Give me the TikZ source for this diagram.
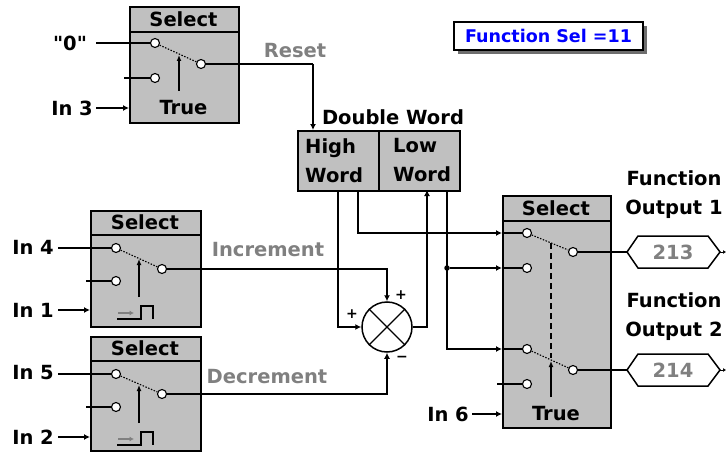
\documentclass[tikz,border=0pt]{standalone}
\usepackage{fontspec}
\setmainfont{DejaVu Sans}
\newfontfamily\plaindv{DejaVu Sans}[Ligatures=ResetAll]
\usetikzlibrary{arrows.meta}
\definecolor{boxgray}{RGB}{192,192,192}
\definecolor{lblgray}{RGB}{128,128,128}
\definecolor{shadowgray}{RGB}{110,110,110}
\definecolor{selblue}{RGB}{0,0,255}
\begin{document}
\begin{tikzpicture}[x=1pt,y=-1pt,
  lbl/.style={font=\fontsize{19.5}{29}\selectfont\bfseries, inner sep=0pt},
  glbl/.style={lbl, text=lblgray},
  small/.style={font=\fontsize{14}{14}\selectfont\bfseries, inner sep=0pt},
  box/.style={draw, fill=boxgray, line width=1.6pt, inner sep=0pt, anchor=north west},
  term/.style={circle, draw, fill=white, line width=1.1pt, minimum size=9pt, inner sep=0pt},
  wire/.style={line width=1.5pt},
  arr/.style={wire, -{Latex[length=6pt,width=6pt]}},
  sw/.style={line width=1.1pt, dash pattern=on 1.5pt off 1.5pt},
  ctl/.style={line width=1.5pt, -{Latex[length=6pt,width=5pt]}},
  jdot/.style={circle, fill=black, minimum size=5.5pt, inner sep=0pt},
  hdr/.style={line width=1.6pt},
]
\useasboundingbox (0,0) rectangle (726,452);

% ---------------- Select 1 (top) ----------------
\node[box, minimum width=109pt, minimum height=116pt] (s1) at (129,6) {};
\draw[hdr] ([yshift=-26pt]s1.north west) -- ([yshift=-26pt]s1.north east);
\node[lbl] (s1h) at (183.5,19) {Select};
\node[lbl] (s1t) at (183.5,108) {True};
\node[term] (s1a) at (155,43) {};
\node[term] (s1b) at (155,78) {};
\node[term] (s1o) at (201,64) {};
\draw[sw] (s1a) -- (s1o);
\coordinate (s1c0) at (179,91);
\coordinate (s1c1) at (179,55);
\draw[ctl] (s1c0) -- (s1c1);
\node[lbl] (zero) at (70,43) {\plaindv\bfseries "0"};
\coordinate (zeroe) at (96,43);
\draw[wire] (zeroe) -- (s1a);
\coordinate (s1bin) at (124,78);
\draw[wire] (s1bin) -- (s1b);
\node[lbl] (in3) at (72,108) {In 3};
\coordinate (in3e) at (96,108);
\coordinate (s1w) at (129,108);
\draw[arr] (in3e) -- (s1w);

% ---------------- Double word ----------------
\node[box, minimum width=162pt, minimum height=60pt] (dw) at (297,130) {};
\coordinate (dwdt) at (379,130);
\coordinate (dwdb) at (379,190);
\draw[hdr] (dwdt) -- (dwdb);
\node[lbl] (dwl) at (393,117) {Double Word};
\node[lbl, align=left, anchor=north west] (hw) at (305,138) {High\\Word};
\node[lbl, align=left, anchor=north west] (lw) at (393,138) {Low\\Word};
\coordinate (dwin) at (313,130);
\coordinate (rstc) at (313,64);
\draw[wire] (s1o) -- (rstc);
\draw[arr] (rstc) -- (dwin);
\node[glbl] (reset) at (295,51) {Reset};

% ---------------- Select 2 (increment) ----------------
\node[box, minimum width=110pt, minimum height=116pt] (s2) at (90,210) {};
\draw[hdr] ([yshift=-25pt]s2.north west) -- ([yshift=-25pt]s2.north east);
\node[lbl] (s2h) at (145,222.5) {Select};
\node[term] (s2a) at (116,248) {};
\node[term] (s2b) at (116,281) {};
\node[term] (s2o) at (162,269) {};
\draw[sw] (s2a) -- (s2o);
\coordinate (s2c0) at (139,297);
\coordinate (s2c1) at (139,259);
\draw[ctl] (s2c0) -- (s2c1);
\node[lbl] (in4) at (33,247) {In 4};
\coordinate (in4e) at (58,248);
\draw[wire] (in4e) -- (s2a);
\coordinate (s2bin) at (86,281);
\draw[wire] (s2bin) -- (s2b);
\node[lbl] (in1) at (33,310) {In 1};
\coordinate (in1e) at (58,310);
\coordinate (s2w) at (90,310);
\draw[arr] (in1e) -- (s2w);
\draw[wire] (117,319) -- (141,319) -- (141,306) -- (153,306) -- (153,319);
\draw[lblgray, line width=1.5pt, -{Latex[length=4.5pt,width=5pt]}] (118,313) -- (134,313);

% ---------------- Select 3 (decrement) ----------------
\node[box, minimum width=110pt, minimum height=114pt] (s3) at (90,336) {};
\draw[hdr] ([yshift=-25pt]s3.north west) -- ([yshift=-25pt]s3.north east);
\node[lbl] (s3h) at (145,348.5) {Select};
\node[term] (s3a) at (116,374) {};
\node[term] (s3b) at (116,407) {};
\node[term] (s3o) at (162,394) {};
\draw[sw] (s3a) -- (s3o);
\coordinate (s3c0) at (139,423);
\coordinate (s3c1) at (139,385);
\draw[ctl] (s3c0) -- (s3c1);
\node[lbl] (in5) at (33,373) {In 5};
\coordinate (in5e) at (58,374);
\draw[wire] (in5e) -- (s3a);
\coordinate (s3bin) at (86,407);
\draw[wire] (s3bin) -- (s3b);
\node[lbl] (in2) at (33,437) {In 2};
\coordinate (in2e) at (58,437);
\coordinate (s3w) at (90,437);
\draw[arr] (in2e) -- (s3w);
\draw[wire] (117,445) -- (141,445) -- (141,432) -- (153,432) -- (153,445);
\draw[lblgray, line width=1.5pt, -{Latex[length=4.5pt,width=5pt]}] (118,439) -- (134,439);

% ---------------- Summing junction ----------------
\node[circle, draw, line width=1.5pt, minimum size=50pt, inner sep=0pt] (sum) at (387,327) {};
\draw[line width=1.1pt] (sum.45) -- (sum.225) (sum.135) -- (sum.315);
\draw[arr] (s2o) -| (sum.north);
\draw[arr] (s3o) -| (sum.south);
\node[glbl] (inc) at (268,250) {Increment};
\node[glbl] (dec) at (267,377) {Decrement};
\node[small] (p1) at (401,295) {+};
\node[small] (p2) at (352,314) {+};
\node[small] (m1) at (402,359) {−};
\coordinate (hw1) at (338,190);
\draw[arr] (hw1) |- (sum.west);
\coordinate (lw1) at (427,190);
\draw[arr] (sum.east) -| (lw1);

% ---------------- Select 4 (big) ----------------
\node[box, minimum width=108pt, minimum height=232pt] (s4) at (502,195) {};
\draw[hdr] ([yshift=-26pt]s4.north west) -- ([yshift=-26pt]s4.north east);
\node[lbl] (s4h) at (556,208) {Select};
\node[lbl] (s4t) at (556,414) {True};
\node[term] (s4a) at (527,233) {};
\node[term] (s4b) at (527,268) {};
\node[term] (s4o) at (573,252) {};
\node[term] (s4c) at (527,349) {};
\node[term] (s4d) at (527,384) {};
\node[term] (s4p) at (573,370) {};
\draw[sw] (s4a) -- (s4o);
\draw[sw] (s4c) -- (s4p);
\coordinate (dsh0) at (551,243);
\coordinate (dsh1) at (551,358);
\draw[line width=1.1pt, dash pattern=on 6pt off 4pt] (dsh0) -- (dsh1);
\coordinate (s4c0) at (551,397);
\coordinate (s4c1) at (551,361);
\draw[ctl] (s4c0) -- (s4c1);
\node[lbl] (in6) at (448,414) {In 6};
\coordinate (in6e) at (472,414);
\coordinate (s4w6) at (502,414);
\draw[arr] (in6e) -- (s4w6);
\coordinate (s4din) at (497,384);
\draw[wire] (s4din) -- (s4d);

% inputs from double word
\coordinate (hw2) at (358,190);
\coordinate (s4w1) at (502,233);
\draw[arr] (hw2) |- (s4w1);
\draw[wire] (s4w1) -- (s4a);
\coordinate (lw2) at (447,190);
\coordinate (s4w3) at (502,349);
\draw[arr] (lw2) |- (s4w3);
\draw[wire] (s4w3) -- (s4c);
\node[jdot] (jd) at (447,268) {};
\coordinate (s4w2) at (502,268);
\draw[arr] (jd) -- (s4w2);
\draw[wire] (s4w2) -- (s4b);

% ---------------- Outputs ----------------
\node[lbl, align=center] (fo1) at (674,195) {Function\\Output 1};
\node[lbl, align=center] (fo2) at (674,317) {Function\\Output 2};
\node[glbl] (v1) at (673,252) {213};
\node[glbl] (v2) at (673,370) {214};
\coordinate (h1w) at (627,252);
\coordinate (h1e) at (720,252);
\coordinate (h2w) at (627,370);
\coordinate (h2e) at (720,370);
\draw[wire] (h1w) -- (638,236) -- (708,236) -- (h1e) -- (708,268) -- (638,268) -- cycle;
\draw[wire] (h2w) -- (638,354) -- (708,354) -- (h2e) -- (708,386) -- (638,386) -- cycle;
\draw[wire] (s4o) -- (h1w);
\draw[wire] (s4p) -- (h2w);
\coordinate (h1x) at (726,252);
\coordinate (h2x) at (726,370);
\draw[line width=1pt, -{Latex[length=3pt,width=4pt]}] (h1e) -- (h1x);
\draw[line width=1pt, -{Latex[length=3pt,width=4pt]}] (h2e) -- (h2x);

% ---------------- Function Sel ----------------
\fill[shadowgray] (458,26) rectangle (647,54);
\node[draw, fill=white, line width=1.6pt, minimum width=189pt, minimum height=28pt, inner sep=0pt,
      text=selblue, font=\fontsize{17.5}{17.5}\selectfont\bfseries] (fsel) at (548.5,36) {Function Sel =11};
\end{tikzpicture}
\end{document}
